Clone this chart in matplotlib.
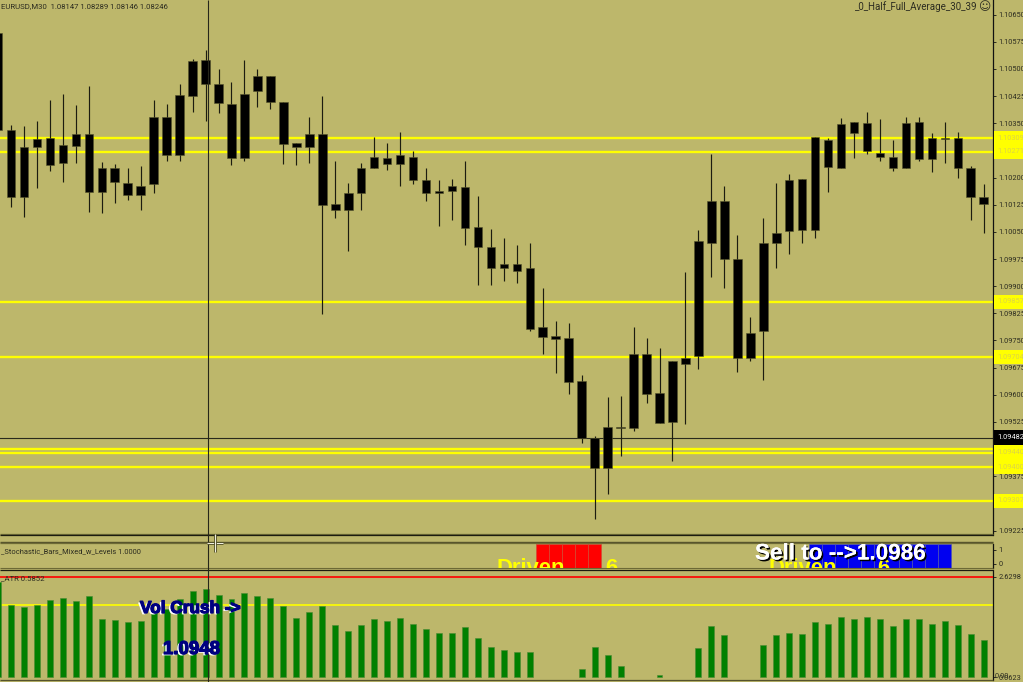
import numpy as np
import matplotlib
matplotlib.use("Agg")
import matplotlib.pyplot as plt
import matplotlib.patheffects as pe
from matplotlib.patches import Rectangle

# ---- data ----
high = [1.10598,1.10346,1.10341,1.10357,1.10415,1.10432,1.10401,1.10454,1.10244,1.10238,1.10225,1.10233,1.10415,1.10404,1.10457,1.10528,1.10553,1.10501,1.10465,1.10526,1.10501,1.10481,1.10410,1.10296,1.10368,1.10424,1.10247,1.10186,1.10241,1.10313,1.10296,1.10327,1.10272,1.10225,1.10192,1.10197,1.10247,1.10150,1.10059,1.10034,1.10015,1.10018,1.09896,1.09805,1.09799,1.09656,1.09485,1.09595,1.09598,1.09786,1.09758,1.09728,1.09694,1.09940,1.10056,1.10266,1.10178,1.10040,1.09816,1.10089,1.10186,1.10211,1.10197,1.10313,1.10308,1.10365,1.10354,1.10382,1.10363,1.10305,1.10368,1.10368,1.10324,1.10354,1.10327,1.10233,1.10181]
body_top = [1.10598,1.10330,1.10283,1.10307,1.10308,1.10291,1.10321,1.10321,1.10225,1.10225,1.10186,1.10178,1.10368,1.10368,1.10429,1.10523,1.10526,1.10457,1.10404,1.10432,1.10481,1.10481,1.10410,1.10296,1.10319,1.10319,1.10128,1.10156,1.10227,1.10258,1.10255,1.10261,1.10258,1.10194,1.10164,1.10178,1.10175,1.10064,1.10007,1.09960,1.09960,1.09949,1.09786,1.09763,1.09758,1.09639,1.09482,1.09512,1.09512,1.09714,1.09714,1.09606,1.09692,1.09703,1.10026,1.10136,1.10136,1.09976,1.09772,1.10018,1.10048,1.10192,1.10197,1.10313,1.10305,1.10349,1.10354,1.10352,1.10269,1.10258,1.10352,1.10354,1.10308,1.10308,1.10310,1.10227,1.10145]
body_bot = [1.10330,1.10145,1.10147,1.10283,1.10236,1.10241,1.10288,1.10161,1.10161,1.10189,1.10153,1.10153,1.10181,1.10263,1.10263,1.10426,1.10457,1.10407,1.10255,1.10255,1.10440,1.10410,1.10294,1.10283,1.10285,1.10123,1.10109,1.10109,1.10156,1.10227,1.10238,1.10238,1.10194,1.10156,1.10156,1.10164,1.10062,1.10009,1.09951,1.09949,1.09943,1.09783,1.09761,1.09755,1.09634,1.09482,1.09399,1.09399,1.09509,1.09509,1.09601,1.09523,1.09526,1.09686,1.09708,1.10020,1.09976,1.09703,1.09703,1.09775,1.10018,1.10051,1.10056,1.10056,1.10230,1.10227,1.10324,1.10272,1.10258,1.10225,1.10225,1.10252,1.10252,1.10306,1.10227,1.10147,1.10128]
low = [1.10330,1.10120,1.10092,1.10172,1.10219,1.10189,1.10241,1.10106,1.10103,1.10131,1.10139,1.10109,1.10158,1.10247,1.10247,1.10382,1.10357,1.10379,1.10236,1.10247,1.10396,1.10390,1.10238,1.10236,1.10241,1.09824,1.10087,1.09998,1.10109,1.10227,1.10222,1.10178,1.10181,1.10134,1.10067,1.10084,1.10015,1.09902,1.09904,1.09913,1.09910,1.09775,1.09714,1.09659,1.09601,1.09468,1.09258,1.09327,1.09432,1.09501,1.09576,1.09523,1.09416,1.09520,1.09672,1.09924,1.09896,1.09664,1.09692,1.09642,1.09951,1.09990,1.10018,1.10034,1.10161,1.10227,1.10255,1.10266,1.10247,1.10219,1.10225,1.10247,1.10216,1.10241,1.10200,1.10084,1.10048]

levels = [1.10309,1.10271,1.09857,1.09704,1.09449,1.09440,1.09400,1.09307]
current_price = 1.09482
price_ticks = [1.10650,1.10575,1.10500,1.10425,1.10350,1.10275,1.10200,1.10125,1.10050,1.09975,1.09900,1.09825,1.09750,1.09675,1.09600,1.09525,1.09450,1.09375,1.09300,1.09225]

atr = [2.501,1.903,1.859,1.903,2.047,2.090,2.005,2.134,1.543,1.525,1.482,1.508,1.749,1.808,2.065,2.262,2.321,2.175,2.072,2.219,2.134,2.090,1.877,1.569,1.739,1.877,1.405,1.235,1.389,1.551,1.508,1.569,1.423,1.302,1.199,1.199,1.338,1.071,0.825,0.763,0.696,0.696,0.0623,0.0623,0.0623,0.260,0.825,0.635,0.345,0.0623,0.0623,0.114,0.0623,0.0623,0.799,1.364,1.133,0.0623,0.0623,0.884,1.133,1.199,1.158,1.466,1.423,1.595,1.551,1.610,1.551,1.379,1.551,1.551,1.423,1.508,1.405,1.158,1.004]
atr_red = 2.6298
atr_yellow = 1.918
atr_min = 0.0623

red_bars = [41,42,43,44,45]
blue_bars = [62,63,64,65,66,67,68,69,70,71,72]

# ---- style ----
W, H = 1023, 682
BG = "#BDB76B"
TXT = '#2c2c20'
FS = 5.35
plt.rcParams['font.family'] = ['Roboto', 'DejaVu Sans']

fig = plt.figure(figsize=(W/100, H/100), dpi=100, facecolor=BG)

def add_ax(x0, y0, x1, y1):
    return fig.add_axes([x0/W, 1-y1/H, (x1-x0)/W, (y1-y0)/H], facecolor=BG)

idx = np.arange(-1, 76)
XLIM = (-11/12.97, (993-11)/12.97)

def style(ax):
    ax.set_xlim(*XLIM)
    ax.set_xticks([])
    for s in ('top', 'left', 'bottom'):
        ax.spines[s].set_visible(False)
    ax.spines['right'].set_color('#111111')
    ax.spines['right'].set_linewidth(0.9)
    ax.yaxis.tick_right()
    ax.tick_params(axis='y', length=2.2, width=0.7, pad=1.5, labelsize=FS, colors=TXT)

# ---- main price panel ----
ax = add_ax(0, 0, 993, 535)
style(ax)
ax.set_ylim(1.10650-520.4/36210, 1.10650+14.6/36210)
ax.set_yticks(price_ticks)
ax.set_yticklabels([f"{t:.5f}" for t in price_ticks])

for lv in levels:
    ax.axhline(lv, color='#FFFF00', lw=1.7, zorder=1)
ax.axhline(current_price, color='#2a2a1c', lw=0.8, zorder=1)

ax.vlines(idx, low, high, color='#1c1c10', lw=0.85, zorder=2)
tops = np.array(body_top); bots = np.array(body_bot)
ax.bar(idx, tops-bots, bottom=bots, width=0.66, color='black',
       edgecolor='#55532c', linewidth=0.4, zorder=3)

for lv in levels:
    ax.text(1.0045, lv, f"{lv:.5f}", transform=ax.get_yaxis_transform(), fontsize=FS,
            color='#dcd446', va='center', ha='left', zorder=6, clip_on=False,
            bbox=dict(facecolor='#FFFF00', edgecolor='none', boxstyle='square,pad=0.5'))
ax.text(1.0045, current_price, f"{current_price:.5f}", transform=ax.get_yaxis_transform(),
        fontsize=FS, color='white', va='center', ha='left', zorder=7, clip_on=False,
        bbox=dict(facecolor='black', edgecolor='none', boxstyle='square,pad=0.5'))

# ---- stochastic bars panel ----
ax2 = add_ax(0, 544, 993, 568)
style(ax2)
ax2.set_ylim((563.5-568)/14, (563.5-544)/14)
ax2.set_yticks([1, 0])
ax2.set_yticklabels(['1', '0'])
lim = ax2.get_ylim()
ax2.bar(red_bars, lim[1]-lim[0], bottom=lim[0], width=1.0, color='#FF0000',
        edgecolor='#d24a34', linewidth=0.5)
ax2.bar(blue_bars, lim[1]-lim[0], bottom=lim[0], width=1.0, color='#0000F0',
        edgecolor='#4d55b4', linewidth=0.5)

# ---- ATR panel ----
ax3 = add_ax(0, 570, 993, 680)
style(ax3)
per_px = 0.02567
ax3.set_ylim(atr_min-(680-677)*per_px, atr_min+(677-570)*per_px)
ax3.set_yticks([atr_red, atr_min])
ax3.set_yticklabels(['2.6298', '0.0623'])
ax3.axhline(atr_red, color='#FF0000', lw=1.2, zorder=4)
ax3.axhline(atr_yellow, color='#FFFF00', lw=1.2, zorder=1)
vals = np.array(atr)
shown = vals > atr_min
ax3.bar(idx[shown], vals[shown]-atr_min, bottom=atr_min, width=0.46, color='#008000',
        edgecolor='#4d8a34', linewidth=0.4, zorder=2)

# ---- overlay in pixel coordinates ----
ov = fig.add_axes([0, 0, 1, 1], facecolor='none', zorder=10)
ov.set_xlim(0, W); ov.set_ylim(H, 0); ov.axis('off')

for y, c, lw in [(534, '#6d6a36', 0.9), (535.4, '#1c1c10', 0.9), (542, '#55532c', 1.0),
                 (543.3, '#6d6a36', 0.9), (568.4, '#6d6a36', 0.8), (570, '#1c1c10', 0.9),
                 (680.4, '#55532c', 0.9)]:
    ov.plot([0, 993], [y, y], color=c, lw=lw, solid_capstyle='butt')

SMALL = dict(color=TXT, va='center')
ov.text(1, 6.5, "EURUSD,M30  1.08147 1.08289 1.08146 1.08246", fontsize=5.55, **SMALL)
ov.text(977, 6.5, "_0_Half_Full_Average_30_39", ha='right', fontsize=7.0, **SMALL)
ov.text(984, 6.5, "\u263A", fontsize=8.5, color=TXT, va='center', ha='center', family='DejaVu Sans')
ov.text(1, 551, "_Stochastic_Bars_Mixed_w_Levels 1.0000", fontsize=5.45, **SMALL)
ov.text(1, 578, "_ATR 0.5852", fontsize=5.6, **SMALL)
ov.text(995, 676, "0.00", fontsize=FS, **SMALL)

clip = Rectangle((0, 544), 993, 24, transform=ov.transData, fill=False, edgecolor='none')
ov.add_patch(clip)
for x, s in [(496, "Driven"), (605, "6"), (768, "Driven"), (877, "6")]:
    t = ov.text(x, 558, s, fontsize=15.8, fontweight='bold', color='#FFFF00', va='top',
                ha='left', family='Liberation Sans')
    t.set_clip_path(clip); t.set_clip_on(True)

ov.text(755, 554, "Sell to -->1.0986", fontsize=16.2, fontweight='bold', color='white',
        va='center', ha='left', family='Liberation Sans',
        path_effects=[pe.withSimplePatchShadow(offset=(1.2, -1.2), shadow_rgbFace='black', alpha=1.0), pe.Normal()])

NAVY = '#000080'
for x, y, s, fs in [(140, 608.5, "Vol Crush ->", 12.4), (163, 649.5, "1.0948", 13.4)]:
    ov.text(x, y, s, fontsize=fs, fontweight='bold', color=NAVY, va='center', ha='left',
            family='Liberation Sans',
            path_effects=[pe.withSimplePatchShadow(offset=(-1.5, -1.0), shadow_rgbFace='white', alpha=1.0),
                          pe.withStroke(linewidth=0.9, foreground=NAVY)])

# crosshair and mouse cursor
ov.plot([208.3, 208.3], [0, H], color='#26261a', lw=0.8, solid_capstyle='butt')
for (xs, ys) in [([207, 223], [543, 543]), ([215, 215], [534, 552])]:
    ov.plot(xs, ys, color='#55532c', lw=2.0, solid_capstyle='butt')
    ov.plot(xs, ys, color='#f4f4e4', lw=0.7, solid_capstyle='butt')

fig.savefig("out.png", dpi=100, facecolor=BG)
